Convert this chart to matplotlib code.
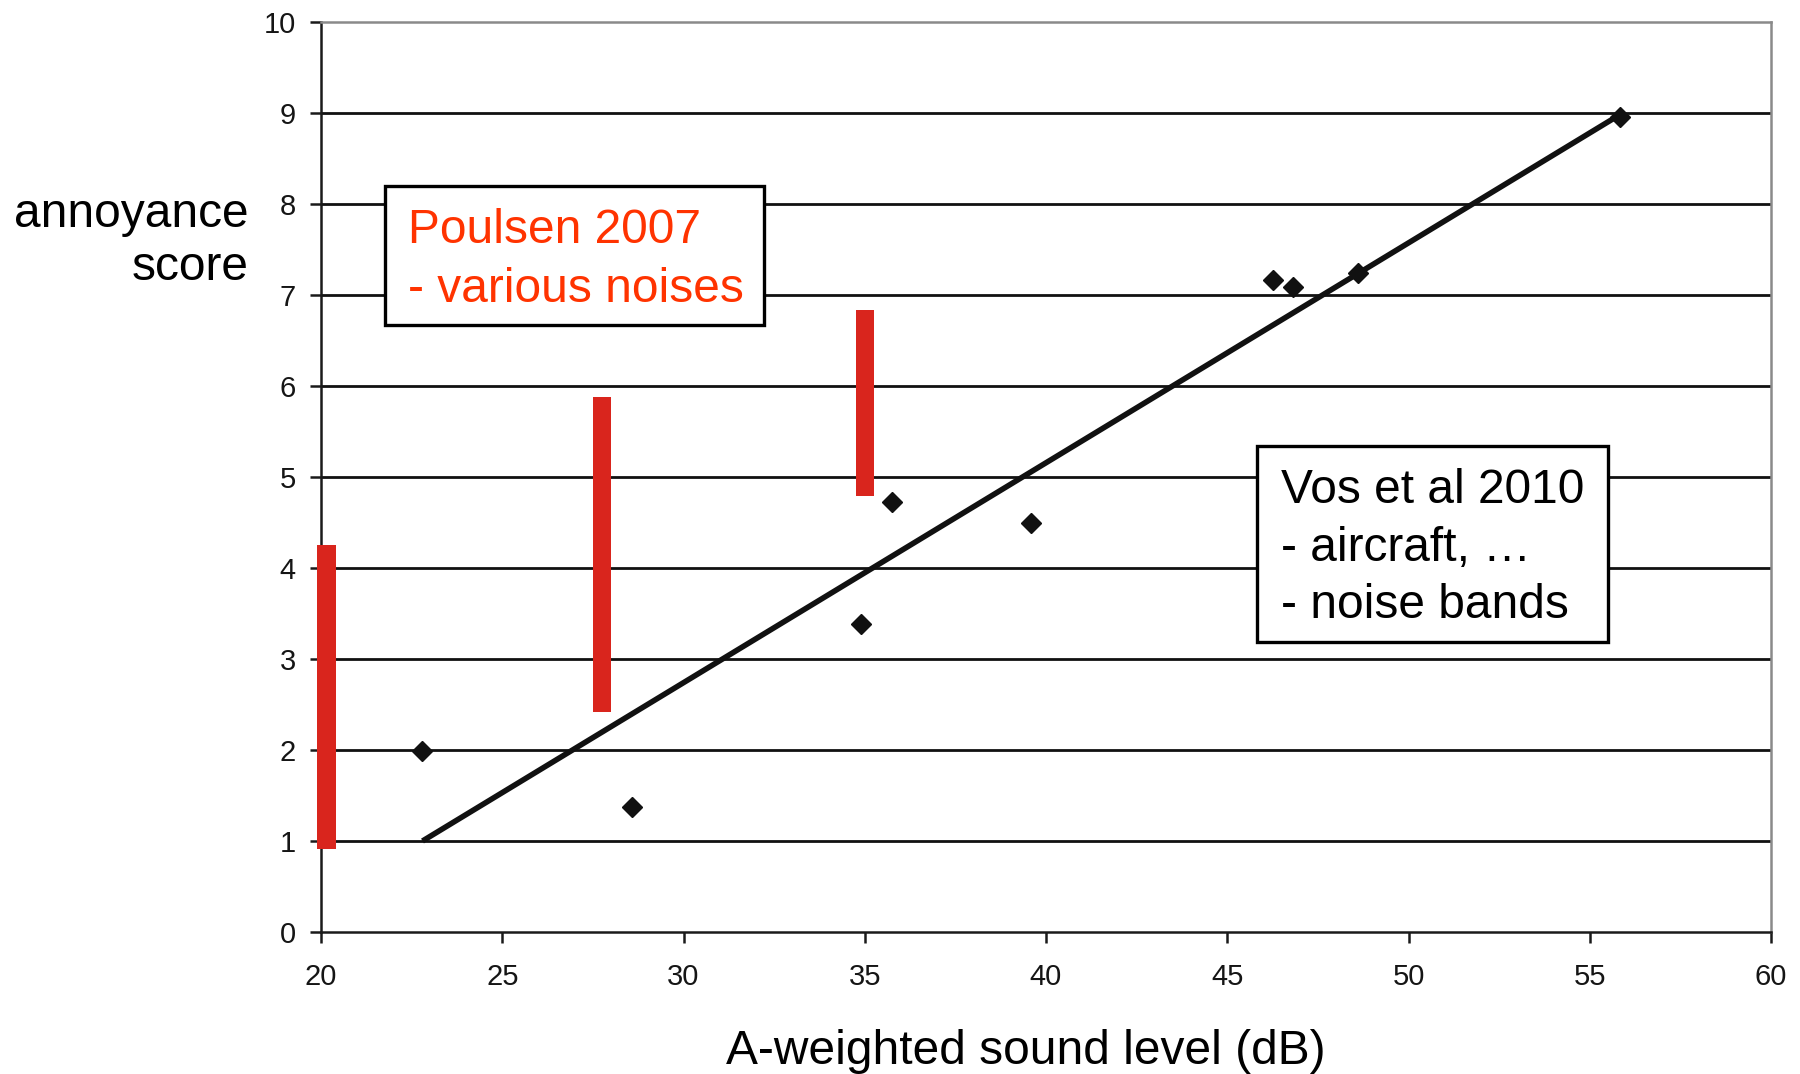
import matplotlib
matplotlib.use("Agg")
import matplotlib.pyplot as plt
from matplotlib.patches import Rectangle

plt.rcParams['font.family'] = ['Liberation Sans', 'DejaVu Sans']

# --- data ---
vos_x = [22.78, 28.57, 34.89, 35.76, 39.59, 46.27, 46.80, 48.62, 55.83]
vos_y = [1.99, 1.37, 3.39, 4.73, 4.50, 7.16, 7.09, 7.24, 8.96]

fit_x = [22.8, 55.7]
fit_y = [1.0, 8.95]

poulsen_x = [20.15, 27.75, 35.0]
poulsen_low = [0.91, 2.42, 4.79]
poulsen_high = [4.25, 5.88, 6.84]

x_ticks = [20, 25, 30, 35, 40, 45, 50, 55, 60]
y_ticks = [0, 1, 2, 3, 4, 5, 6, 7, 8, 9, 10]

W, H = 1800, 1074
fig = plt.figure(figsize=(W / 100, H / 100), dpi=100)
ax = fig.add_axes([321 / W, 1 - 932 / H, (1771 - 321) / W, (932 - 22) / H])

ax.set_xlim(20, 60)
ax.set_ylim(0, 10)

# gridlines
for yv in y_ticks[1:-1]:
    ax.axhline(yv, color='#111111', lw=2.0, zorder=1)

# spines
for s in ['left', 'bottom']:
    ax.spines[s].set_color('#1a1a1a')
    ax.spines[s].set_linewidth(1.8)
for s in ['top', 'right']:
    ax.spines[s].set_color('#8a8a8a')
    ax.spines[s].set_linewidth(1.8)

ax.set_xticks(x_ticks)
ax.set_yticks(y_ticks)
ax.set_xticklabels([str(v) for v in x_ticks])
ax.set_yticklabels([str(v) for v in y_ticks])
ax.tick_params(axis='both', direction='out', length=8, width=1.8, color='#1a1a1a',
               labelsize=21, labelcolor='#151515')
ax.tick_params(axis='x', pad=14)
ax.tick_params(axis='y', pad=10)

# Poulsen bars
heights = [h - l for h, l in zip(poulsen_high, poulsen_low)]
ax.bar(poulsen_x, heights, bottom=poulsen_low, width=0.5, color='#d9251d',
       zorder=5, clip_on=False)

# fit line and points
ax.plot(fit_x, fit_y, color='#111111', lw=4.0, zorder=3, solid_capstyle='butt')
ax.plot(vos_x, vos_y, linestyle='none', marker='D', ms=10.5, color='#111111',
        zorder=4)

# text boxes (figure pixel coords)
def fx(px):
    return px / W

def fy(py):
    return 1 - py / H

def box(l, t, r, b):
    rect = Rectangle((fx(l), fy(b)), fx(r) - fx(l), fy(t) - fy(b),
                     transform=fig.transFigure, facecolor='white',
                     edgecolor='black', lw=2.4, zorder=10)
    fig.patches.append(rect)

FS = 34.5

box(385, 186, 764, 325)
fig.text(fx(408), fy(243), 'Poulsen 2007', color='#ff3300', fontsize=FS,
         va='baseline', ha='left', zorder=11)
fig.text(fx(408), fy(302), '- various noises', color='#ff3300', fontsize=FS,
         va='baseline', ha='left', zorder=11)

box(1257, 446, 1608, 642)
fig.text(fx(1281), fy(503), 'Vos et al 2010', color='black', fontsize=FS,
         va='baseline', ha='left', zorder=11)
fig.text(fx(1281), fy(561), '- aircraft, \u2026', color='black', fontsize=FS,
         va='baseline', ha='left', zorder=11)
fig.text(fx(1281), fy(618), '- noise bands', color='black', fontsize=FS,
         va='baseline', ha='left', zorder=11)

# axis labels
fig.text(fx(249), fy(227), 'annoyance', fontsize=FS, ha='right', va='baseline')
fig.text(fx(249), fy(280), 'score', fontsize=FS, ha='right', va='baseline')
fig.text(fx(1026), fy(1064), 'A-weighted sound level (dB)', fontsize=FS,
         ha='center', va='baseline')

fig.savefig('out.png', dpi=100)
